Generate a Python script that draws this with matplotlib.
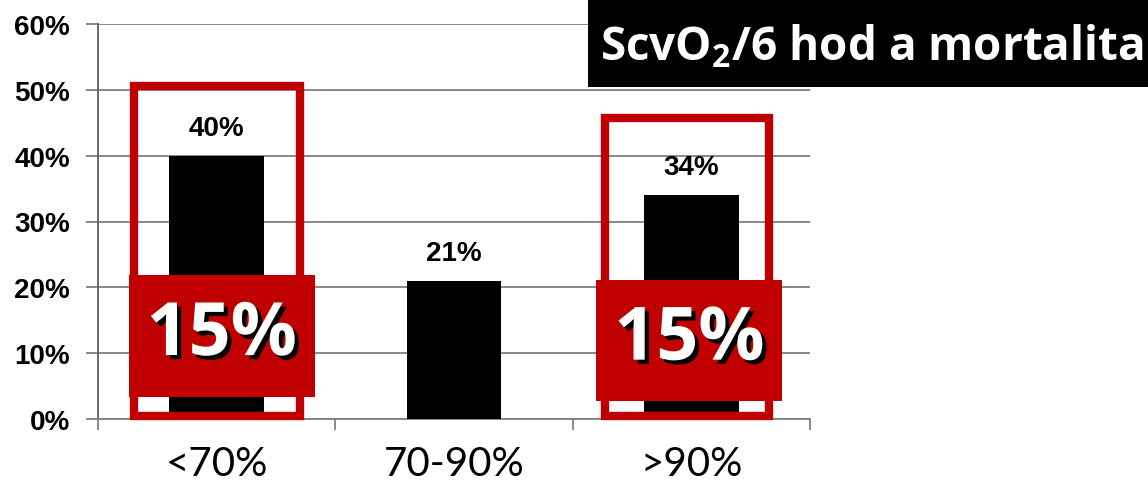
import matplotlib
matplotlib.use("Agg")
import matplotlib.pyplot as plt
import matplotlib.patheffects as pe
from matplotlib.patches import Rectangle

categories = ["<70%", "70-90%", ">90%"]
mortality = [40, 21, 34]
bar_labels = ["40%", "21%", "34%"]
yticks = [0, 10, 20, 30, 40, 50, 60]
ytick_labels = ["0%", "10%", "20%", "30%", "40%", "50%", "60%"]
highlight_idx = [0, 2]
highlight_text = "15%"
title = "ScvO$_2$/6 hod a mortalita"

RED = "#C00000"
plt.rcParams["mathtext.default"] = "regular"

fig = plt.figure(figsize=(11.48, 4.85), dpi=100)
ax = fig.add_axes([98 / 1148, 1 - 420 / 485, 712 / 1148, 395 / 485])

x = list(range(len(categories)))
ax.bar(x, mortality, width=0.4, color="black", zorder=3)
for xi, v, lab in zip(x, mortality, bar_labels):
    ax.text(xi, v + 2.3, lab, ha="center", va="bottom", fontsize=20,
            fontweight="bold", family="Liberation Sans", zorder=4)

ax.set_xlim(-0.5, 2.5)
ax.set_ylim(0, 60)
ax.set_yticks(yticks)
ax.set_yticklabels(ytick_labels, fontsize=20, fontweight="bold", family="Liberation Sans")
ax.yaxis.grid(True, color="#808080", lw=1.3, zorder=0)
ax.set_axisbelow(True)
ax.tick_params(axis="y", length=9, width=1.3, color="#808080", pad=11)
ax.set_xticks([-0.5, 0.5, 1.5, 2.5])
ax.set_xticklabels([])
ax.set_xticks(x, minor=True)
ax.set_xticklabels(categories, minor=True, fontsize=29, family="Lato")
ax.tick_params(axis="x", which="major", length=8, width=1.3, color="#808080")
ax.tick_params(axis="x", which="minor", length=0, pad=19)
for s in ["top", "right"]:
    ax.spines[s].set_visible(False)
ax.spines["left"].set_color("#606060")
ax.spines["bottom"].set_color("#808080")
ax.spines["left"].set_linewidth(1.3)
ax.spines["bottom"].set_linewidth(1.3)

# red highlight frames and boxes
frames = {0: (-0.348, 0.350, 0.5, 50.6), 2: (-0.363, 0.329, 0.5, 45.7)}
boxes = {0: (-0.371, 0.414, 3.3, 21.9), 2: (-0.40, 0.384, 2.7, 21.1)}
for i in highlight_idx:
    l, r, b, t = frames[i]
    ax.add_patch(Rectangle((i + l, b), r - l, t - b, fill=False, ec=RED,
                           lw=6, zorder=5, clip_on=False))
    l, r, b, t = boxes[i]
    ax.add_patch(Rectangle((i + l, b), r - l, t - b, fc=RED, ec="none",
                           zorder=6, clip_on=False))
    ax.text(i + (l + r) / 2, (b + t) / 2, highlight_text, ha="center", va="center",
            fontsize=53, fontweight="bold", color="white", family="Open Sans", zorder=7,
            path_effects=[pe.withSimplePatchShadow(offset=(3, -3), shadow_rgbFace="black", alpha=1)])

# title box
fig.patches.append(Rectangle((588 / 1148, 1 - 88 / 485), 1 - 588 / 1148, 88 / 485,
                             transform=fig.transFigure, fc="black", ec="none", zorder=10))
fig.text((605 + 1138) / 2 / 1148, 1 - 47 / 485, title, ha="center", va="center",
         color="white", fontsize=33, fontweight="bold", family="Open Sans", zorder=11)

fig.savefig("out.png", dpi=100)
